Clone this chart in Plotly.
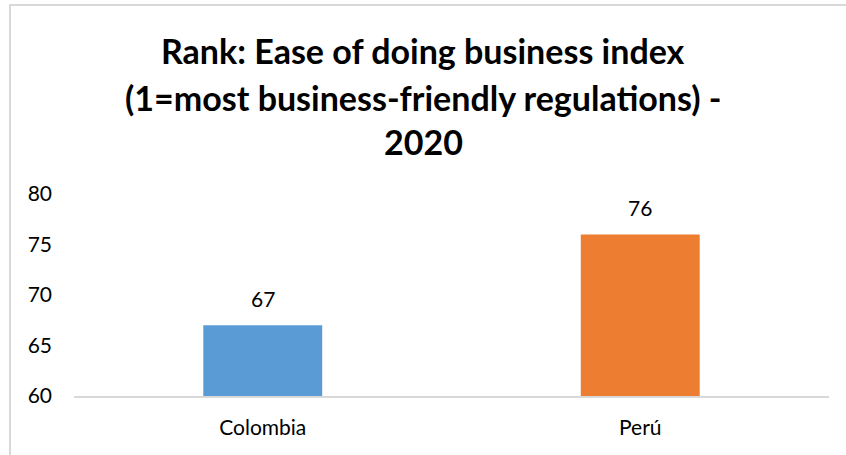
import plotly.graph_objects as go

categories = ["Colombia", "Perú"]
values = [67, 76]
colors = ["#5B9BD5", "#ED7D31"]
title_lines = ["Rank: Ease of doing business index",
               "(1=most business-friendly regulations) -",
               "2020"]
y_ticks = [60, 65, 70, 75, 80]

FONT = "Lato"

fig = go.Figure()
fig.add_trace(go.Bar(
    x=categories, y=values, marker=dict(color=colors, line=dict(width=0)),
    width=0.315, showlegend=False,
))

L, R, T, B = 74, 17, 194, 59
W, H = 846, 455
pw, ph = W - L - R, H - T - B

annotations = []
title_y_px = [50, 97, 141]
for line, ypx in zip(title_lines, title_y_px):
    annotations.append(dict(
        text="<b>%s</b>" % line, xref="paper", yref="paper",
        x=(W / 2 - L) / pw, y=(H - B - ypx) / ph, xanchor="center", yanchor="middle",
        showarrow=False, font=dict(family=FONT, size=34, color="#000000"),
    ))

for c, v in zip(categories, values):
    annotations.append(dict(
        text=str(v), x=c, y=v, xref="x", yref="y", showarrow=False,
        yanchor="bottom", yshift=12, font=dict(family=FONT, size=21, color="#000000"),
    ))

def px_x(v):
    return (v - L) / pw

def px_y(v):
    return (H - B - v) / ph

shapes = [
    dict(type="line", xref="paper", yref="paper", x0=px_x(10), x1=px_x(10),
         y0=px_y(4), y1=px_y(470), line=dict(color="#D9D9D9", width=2)),
    dict(type="line", xref="paper", yref="paper", x0=px_x(9), x1=px_x(860),
         y0=px_y(5), y1=px_y(5), line=dict(color="#D9D9D9", width=2)),
]

fig.update_layout(
    width=W, height=H,
    margin=dict(l=L, r=R, t=T, b=B, autoexpand=False),
    paper_bgcolor="white", plot_bgcolor="white",
    annotations=annotations, shapes=shapes,
    bargap=0.685,
    xaxis=dict(showline=True, linecolor="#D9D9D9", linewidth=2, ticks="",
               ticklabelstandoff=12,
               tickfont=dict(family=FONT, size=21, color="#000000"),
               showgrid=False),
    yaxis=dict(range=[60, 80], tickvals=y_ticks, showgrid=False, zeroline=False,
               showline=False, ticks="", ticklabelstandoff=21,
               tickfont=dict(family=FONT, size=21, color="#000000")),
)

fig.write_html("out.html")
